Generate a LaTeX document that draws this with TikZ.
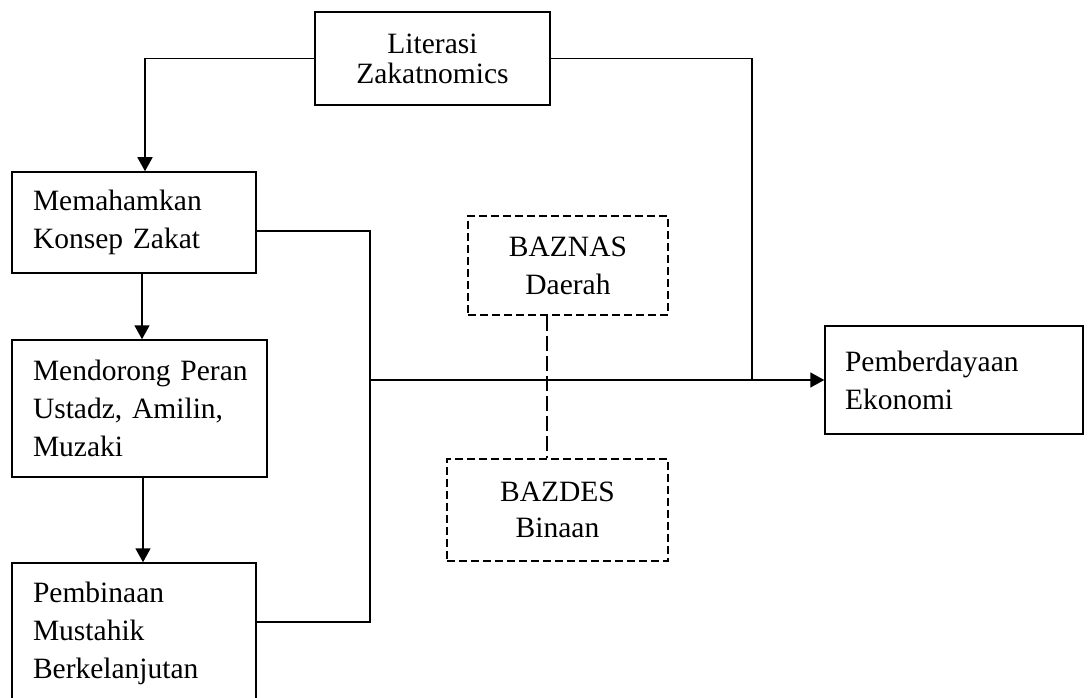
\documentclass[tikz,border=0pt]{standalone}
\usepackage{fontspec}
\setmainfont{Liberation Serif}
\usetikzlibrary{arrows.meta}

\begin{document}
\begin{tikzpicture}[x=1pt, y=-1pt,
		box/.style={draw, line width=1.5pt, inner sep=0pt, font=\fontsize{29.5}{38}\selectfont},
		leftbox/.style={box, align=left},
		dashbox/.style={box, align=center, dash pattern=on 8pt off 4pt},
		link/.style={line width=1.8pt},
		arr/.style={link, -{Triangle[length=14pt,width=15pt]}}]
			%%%%% START %%%%%
			
			\useasboundingbox (0,0) rectangle (1090,698);
			\clip (0,0) rectangle (1090,698);
			
			\node[box, align=center, minimum width=235pt, minimum height=93pt, font=\fontsize{29.5}{30}\selectfont] (lit) at (432.5,58.5) {Literasi\\Zakatnomics};
			
			\node[leftbox, minimum width=244pt, minimum height=101pt, text width=202pt] (paham) at (134,222.5) {\mbox{Memahamkan}\\\mbox{Konsep Zakat}};
			\node[leftbox, minimum width=255pt, minimum height=137pt, text width=213pt] (dorong) at (139.5,408.5) {\mbox{Mendorong Peran}\\\mbox{Ustadz, Amilin,}\\\mbox{Muzaki}};
			\node[leftbox, minimum width=244pt, minimum height=140pt, text width=202pt] (bina) at (134,633) {\mbox{Pembinaan}\\\mbox{Mustahik}\\\mbox{Berkelanjutan}};
			
			\node[dashbox, minimum width=200pt, minimum height=99pt] (baznas) at (568,265.5) {BAZNAS\\Daerah};
			\node[dashbox, minimum width=221pt, minimum height=102pt, font=\fontsize{29.5}{36}\selectfont] (bazdes) at (557.5,510) {BAZDES\\Binaan};
			
			\node[leftbox, minimum width=258pt, minimum height=108pt, text width=218pt] (eko) at (954,380) {\mbox{Pemberdayaan}\\\mbox{Ekonomi}};
			
			\coordinate (hub) at (370,380);
			\coordinate (hubR) at (752,380);
			
			\draw[arr] (lit.west) -| ([xshift=11pt]paham.north);
			\draw[link] (lit.east) -| (hubR);
			
			\draw[arr] ([xshift=8pt]paham.south) -- ([xshift=8pt]paham.south |- dorong.north);
			\draw[arr] ([xshift=3.5pt]dorong.south) -- ([xshift=3.5pt]dorong.south |- bina.north);
			
			\draw[link] ([yshift=-8.5pt]paham.east) -| (hub);
			\draw[link] ([yshift=11pt]bina.east) -| (hub);
			\draw[arr] (hub) -- (eko.west);
			
			\draw[link, dash pattern=on 15pt off 5pt] ([xshift=-21pt]baznas.south) -- ([xshift=-21pt]baznas.south |- bazdes.north);
			
			%%%%% END %%%%%
\end{tikzpicture}
\end{document}
